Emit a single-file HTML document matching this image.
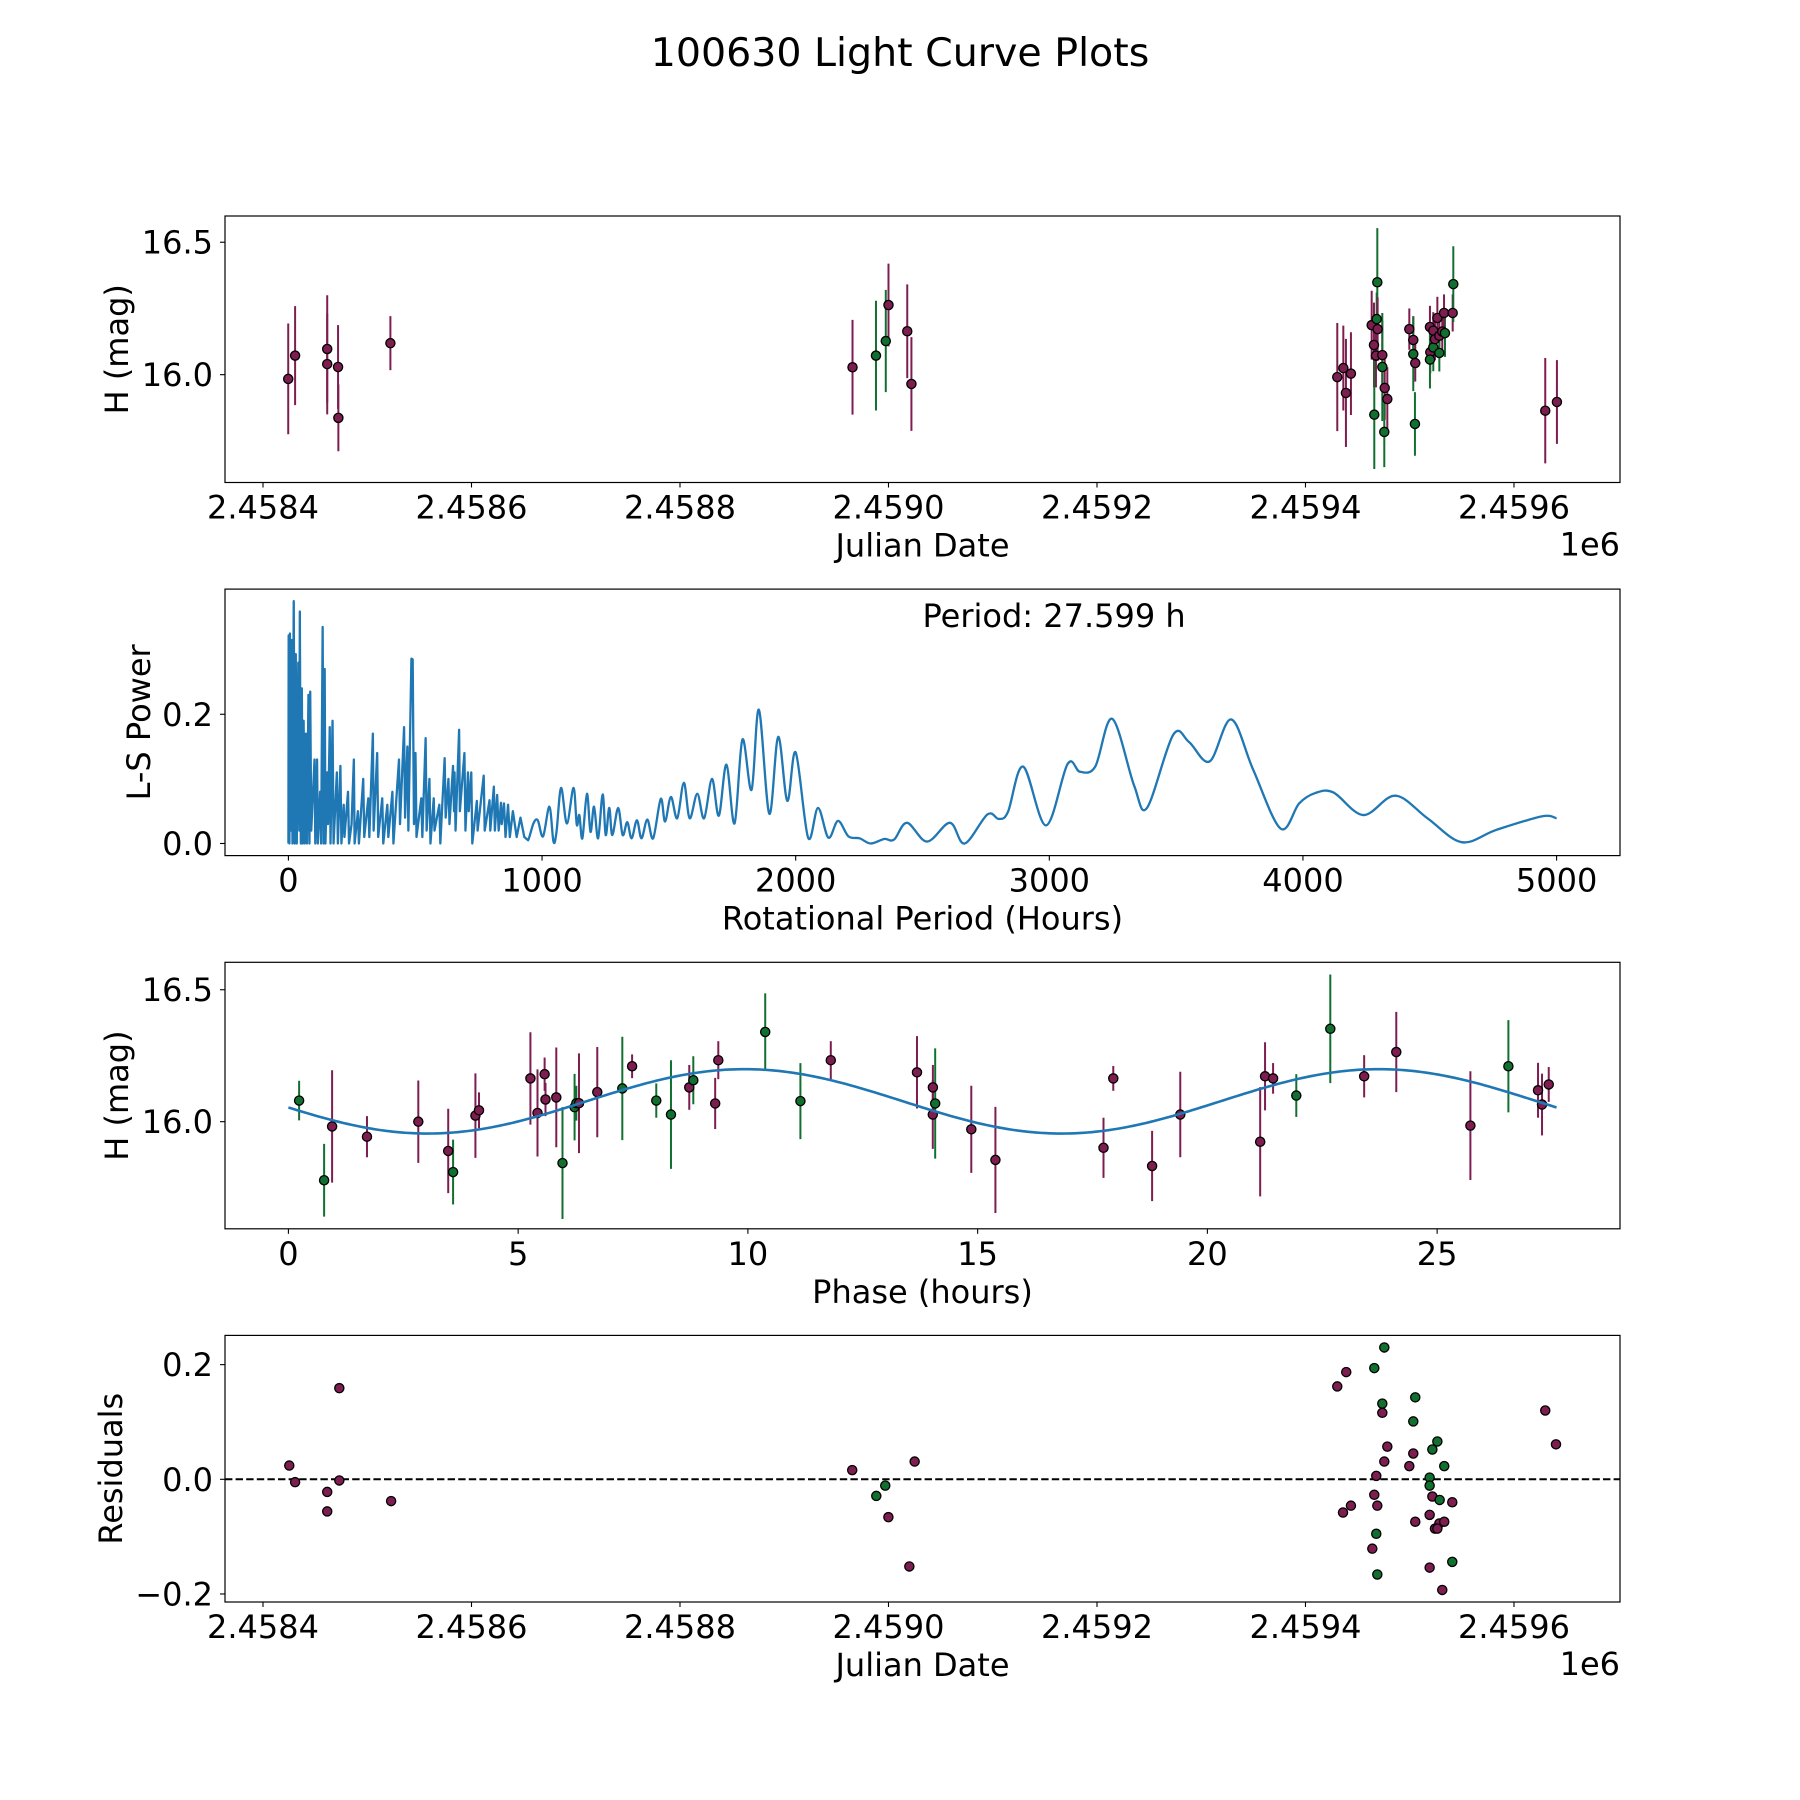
<!DOCTYPE html>
<html><head><meta charset="utf-8"><title>100630 Light Curve Plots</title>
<style>
html,body{margin:0;padding:0;background:#fff;}
svg{display:block;font-family:"DejaVu Sans","Liberation Sans",sans-serif;}
</style></head>
<body>
<svg id="fig" xmlns="http://www.w3.org/2000/svg" width="1800" height="1800" viewBox="0 0 1800 1800">
<rect width="1800" height="1800" fill="#fff"/>
<text x="900" y="66" font-size="39.5" text-anchor="middle">100630 Light Curve Plots</text>
</svg>
<script>
// ---- Panel 1: magnitude vs Julian date (days after 2458400) ----
const p1Days=[24.2,30.8,61.6,61.6,72,72.3,122.2,565.5,588,597.4,600,618,622,
1030.5,1036.3,1038.8,1043.6,1063.5,1065.7,1066,1068.3,1068.9,1067.6,1069.2,1073.7,1073.7,1076,1078.5,1075.6,
1099.6,1103.4,1103.4,1105.3,1105,1119.4,1119.7,1119.4,1122.6,1122.6,1124.2,1126.5,1128.4,1128.4,1131.2,1133.8,1132.9,1141.2,1141.8,1230,1241.2];
const p1Mag=[15.984,16.072,16.097,16.040,16.029,15.837,16.119,16.028,16.072,16.127,16.263,16.164,15.965,
15.991,16.025,15.931,16.004,16.187,16.112,15.849,16.21,16.349,16.072,16.172,16.074,16.029,15.95,15.908,15.784,
16.172,16.131,16.078,16.044,15.814,16.18,16.085,16.057,16.166,16.103,16.134,16.214,16.147,16.082,16.163,16.157,16.233,16.233,16.342,15.864,15.897];
const p1Err=[0.209,0.187,0.203,0.19,0.158,0.126,0.102,0.179,0.207,0.193,0.156,0.177,0.177,
0.204,0.16,0.204,0.156,0.13,0.16,0.205,0.1,0.204,0.12,0.12,0.13,0.204,0.12,0.12,0.133,
0.078,0.09,0.14,0.07,0.12,0.08,0.08,0.109,0.07,0.09,0.08,0.08,0.08,0.07,0.07,0.09,0.07,0.07,0.143,0.199,0.158];
const p1Color=['P','P','P','P','P','P','P','P','G','G','P','P','P',
'P','P','P','P','P','P','G','G','G','P','P','P','G','P','P','G',
'P','P','G','P','G','P','P','G','P','G','P','P','P','G','P','G','P','P','G','P','P'];
const p1XTicks=[0,200,400,600,800,1000,1200];
const p1XTickLabels=['2.4584','2.4586','2.4588','2.4590','2.4592','2.4594','2.4596'];
const magTicks=[16.0,16.5];
const magTickLabels=['16.0','16.5'];

// ---- Panel 2: Lomb-Scargle periodogram ----
const lsPeriod=[0,1,4,6,10,13,16,21,25,29,33,39,43,45,49,53,56,60,64,69,73,79,83,86,90,103,106,113,116,125,129,135,139,143,146,153,156,163,166,174,178,191,195,205,209,218,221,235,239,249,258,261,274,278,295,299,315,319,333,336,350,354,370,374,390,394,410,414,436,440,456,460,469,473,485,490,495,501,505,524,528,541,545,556,560,573,576,595,599,616,620,631,635,649,653,655,659,673,676,694,698,708,711,721,725,743,746,770,774,793,796,810,814,823,829,838,841,850,856,866,873,885,900,915,930,945,
966,983,1004,1029,1045,1057,1075,1098,1124,1137,1147,1159,1177,1191,1205,1221,1239,1251,1265,1277,1300,1318,1336,1353,1374,1392,1415,1438,1468,1485,1508,1533,1559,1582,1612,1639,1670,1697,1727,1759,1790,1826,1855,1896,1931,1967,2000,2049,2088,2129,2167,2208,2252,2296,2349,2388,2439,2518,2608,2666,2756,2801,2837,2897,2987,3072,3121,3181,3248,3334,3385,3488,3551,3632,3717,3804,3912,3985,4048,4120,4238,4364,4491,4626,4762,4942,5000];
const lsPower=[0,.322,0,.325,.02,.315,0,.375,0,.293,0,.28,.02,.359,0,.24,0,.19,0,.17,0,.23,0,.235,.02,.13,0,.13,0,.08,0,.335,0,.27,0,.11,.03,.18,0,.19,0,.11,0,.12,0,.06,.01,.08,0,.03,.13,0,.05,0,.1,.01,.07,.01,.17,.02,.14,.01,.07,0,.06,.01,.08,0,.13,.03,.18,.04,.15,.02,.286,.285,.03,.14,.01,.07,.01,.163,.02,.1,0,.07,.02,.06,0,.132,.04,.1,.03,.12,.05,.11,.02,.176,.05,.14,.02,.11,.05,.11,0,.066,.02,.105,.02,.067,.02,.088,.02,.075,.02,.063,.03,.062,.01,.06,.01,.05,.01,.04,.01,.005,
.031,.036,.011,.057,.003,.018,.086,.031,.086,.029,.044,.008,.077,.018,.057,.008,.076,.013,.055,.013,.055,.013,.033,.008,.036,.008,.037,.008,.069,.034,.072,.039,.094,.039,.077,.039,.1,.043,.122,.031,.161,.083,.207,.046,.165,.066,.141,.009,.055,.009,.035,.011,.008,0,.007,.006,.032,.003,.032,0,.045,.038,.049,.119,.028,.123,.111,.119,.193,.09,.055,.168,.157,.127,.192,.114,.023,.062,.078,.079,.044,.074,.039,.002,.021,.042,.039];
const lsXTicks=[0,1000,2000,3000,4000,5000];
const lsYTicks=[0.0,0.2];
const bestPeriod=[27.599];

// ---- Panel 3: phase-folded magnitudes ----
const p3Phase=[0.233,0.777,0.951,1.71,2.827,3.478,3.584,4.07,4.148,5.267,5.421,5.576,5.595,5.83,5.965,6.228,6.266,6.324,6.722,7.267,7.48,8.006,8.326,8.724,8.812,9.288,9.356,10.377,11.143,11.804,13.68,
14.026,14.024,14.076,14.862,15.387,17.739,17.952,18.797,19.41,21.149,21.255,21.43,21.935,22.675,23.412,24.111,25.724,26.551,27.196,27.283,27.429];
const p3Mag=[16.080,15.778,15.982,15.943,16.0,15.889,15.809,16.023,16.043,16.164,16.033,16.180,16.084,16.092,15.843,16.055,16.07,16.070,16.112,16.126,16.210,16.080,16.027,16.130,16.157,16.069,16.233,16.340,16.078,16.233,16.187,
16.130,16.027,16.069,15.971,15.855,15.901,16.164,15.832,16.027,15.924,16.172,16.164,16.099,16.352,16.172,16.264,15.985,16.210,16.119,16.065,16.141];
const p3Err=[0.075,0.138,0.213,0.078,0.156,0.16,0.123,0.16,0.068,0.175,0.165,0.063,0.063,0.189,0.212,0.126,0.066,0.189,0.171,0.196,0.045,0.065,0.206,0.085,0.091,0.097,0.072,0.146,0.144,0.072,0.137,
0.085,0.13,0.209,0.165,0.201,0.114,0.047,0.133,0.162,0.207,0.129,0.058,0.081,0.206,0.08,0.152,0.206,0.175,0.104,0.117,0.066];
const p3Color=['G','G','P','P','P','P','G','P','P','P','P','P','P','P','G','G','G','P','P','G','P','G','G','P','G','P','P','G','G','P','P',
'P','P','G','P','P','P','P','P','P','P','P','P','G','G','P','P','P','G','P','P','P'];
const fitMean=[16.077];
const fitAmp=[0.122];
const fitOffset=[6.48];
const phaseTicks=[0,5,10,15,20,25];

// ---- Panel 4: residuals ----
const resDays=[25.2,30.8,61.6,61.6,73.2,73.2,122.9,565.2,588.3,596.9,599.9,620,625.1,
1030.5,1039.1,1036,1043.6,1066,1075.6,1073.7,1073.7,1103.4,1105.3,1078.5,1075.6,1067.9,1066,1068.9,1067.9,1064.1,1068.9,
1103.4,1099.6,1126.5,1121.7,1133.1,1119.1,1119.1,1121.7,1128.7,1140.8,1119.1,1105.3,1128.4,1133.1,1124.2,1126.5,1140.8,1119.1,1131.2,1230,1240.3];
const resVal=[0.024,-0.005,-0.022,-0.056,0.159,-0.002,-0.038,0.016,-0.029,-0.011,-0.066,-0.152,0.031,
0.162,0.187,-0.058,-0.046,0.194,0.23,0.132,0.116,0.101,0.143,0.057,0.031,0.006,-0.027,-0.046,-0.095,-0.121,-0.166,
0.045,0.023,0.066,0.052,0.023,0.003,-0.011,-0.03,-0.036,-0.04,-0.062,-0.074,-0.077,-0.074,-0.086,-0.086,-0.144,-0.154,-0.193,0.12,0.061];
const resColor=['P','P','P','P','P','P','P','P','G','G','P','P','P',
'P','P','P','P','G','G','G','P','G','G','P','P','P','P','P','G','P','G',
'P','P','G','G','G','G','G','P','G','P','P','P','P','P','P','P','G','P','P','P','P'];
const resYTicks=[-0.2,0.0,0.2];
const resYTickLabels=['\u22120.2','0.0','0.2'];

const NS='http://www.w3.org/2000/svg';
const svg=document.getElementById('fig');
const L=225,R=1620;
const COLORS={P:'#7d1d50',G:'#11702f'};
const FS=32;
const dayLim=[-36.45,1301.7];
const panels=[{t:216,b:482.5},{t:589.1,b:855.6},{t:962.3,b:1228.8},{t:1335.4,b:1602}];

function mk(tag,attrs,parent){const e=document.createElementNS(NS,tag);for(const k in attrs)e.setAttribute(k,attrs[k]);(parent||svg).appendChild(e);return e;}
function scaleX(lo,hi){return v=>L+(v-lo)/(hi-lo)*(R-L);}
function scaleY(lo,hi,p){return v=>p.b-(v-lo)/(hi-lo)*(p.b-p.t);}

function frame(p,name){
  const g=mk('g',{});
  
  
  return g;
}
function spines(p,g){
  const r=mk('rect',{x:L,y:p.t,width:R-L,height:p.b-p.t,fill:'none',stroke:'#000','stroke-width':1.2},g);
  
  
}
function xTicks(p,g,vals,labels,sx){
  vals.forEach((v,i)=>{
    const x=sx(v);
    const t=mk('line',{x1:x,x2:x,y1:p.b,y2:p.b+5,stroke:'#000','stroke-width':1.1},g);
    
    
    const tx=mk('text',{x:x,y:p.b+36,'font-size':FS,'text-anchor':'middle'},g);
    tx.textContent=labels[i];
    
    
  });
}
function yTicks(p,g,vals,labels,sy){
  vals.forEach((v,i)=>{
    const y=sy(v);
    const t=mk('line',{x1:L-5,x2:L,y1:y,y2:y,stroke:'#000','stroke-width':1.1},g);
    
    
    const tx=mk('text',{x:L-12,y:y+11.5,'font-size':FS,'text-anchor':'end'},g);
    tx.textContent=labels[i];
    
    
  });
}
function xLabel(p,g,txt){
  const t=mk('text',{x:(L+R)/2,y:p.b+74,'font-size':FS,'text-anchor':'middle'},g);
  t.textContent=txt;
  
  
}
function yLabel(p,g,txt,cx){
  const cy=(p.t+p.b)/2;
  const t=mk('text',{x:cx,y:cy,'font-size':FS,'text-anchor':'middle',transform:'rotate(-90 '+cx+' '+cy+')'},g);
  t.textContent=txt;
  
  
}
function errPoints(g,xs,ys,es,cs,sx,sy){
  xs.forEach((v,i)=>{
    const x=sx(v);
    const b=mk('line',{x1:x,x2:x,y1:sy(ys[i]-es[i]),y2:sy(ys[i]+es[i]),stroke:COLORS[cs[i]],'stroke-width':2},g);
    
    
  });
  xs.forEach((v,i)=>{
    const c=mk('circle',{cx:sx(v),cy:sy(ys[i]),r:4.6,fill:COLORS[cs[i]],stroke:'#000','stroke-width':1.3},g);
    
    
  });
}

// Panel 1
(function(){
  const p=panels[0];const g=frame(p,'magnitude-vs-date-panel');
  const sx=scaleX(dayLim[0],dayLim[1]),sy=scaleY(15.593,16.599,p);
  errPoints(g,p1Days,p1Mag,p1Err,p1Color,sx,sy);
  spines(p,g);
  xTicks(p,g,p1XTicks,p1XTickLabels,sx);
  yTicks(p,g,magTicks,magTickLabels,sy);
  xLabel(p,g,'Julian Date');
  yLabel(p,g,'H (mag)',128);
  const o=mk('text',{x:R,y:p.b+73,'font-size':FS,'text-anchor':'end'},g);
  o.textContent='1e6';
  
  
})();

// Panel 2
(function(){
  const p=panels[1];const g=frame(p,'periodogram-panel');
  const sx=scaleX(-250,5250),sy=scaleY(-0.01875,0.39375,p);
  const n=Math.min(lsPeriod.length,lsPower.length);
  const pts=[];
  for(let i=0;i<n;i++)pts.push([sx(lsPeriod[i]),sy(lsPower[i])]);
  let d='M'+pts[0][0].toFixed(2)+' '+pts[0][1].toFixed(2);
  for(let i=1;i<pts.length;i++){
    if(lsPeriod[i]<=945){d+='L'+pts[i][0].toFixed(2)+' '+pts[i][1].toFixed(2);continue;}
    const p0=pts[Math.max(i-2,0)],p1=pts[i-1],p2=pts[i],p3=pts[Math.min(i+1,pts.length-1)];
    const c1x=p1[0]+(p2[0]-p0[0])/6,c1y=p1[1]+(p2[1]-p0[1])/6;
    const c2x=p2[0]-(p3[0]-p1[0])/6,c2y=p2[1]-(p3[1]-p1[1])/6;
    d+='C'+c1x.toFixed(2)+' '+c1y.toFixed(2)+' '+c2x.toFixed(2)+' '+c2y.toFixed(2)+' '+p2[0].toFixed(2)+' '+p2[1].toFixed(2);
  }
  const path=mk('path',{d:d,fill:'none',stroke:'#1f77b4','stroke-width':2.3,'stroke-linejoin':'round'},g);
  
  
  spines(p,g);
  xTicks(p,g,lsXTicks,lsXTicks.map(String),sx);
  yTicks(p,g,lsYTicks,lsYTicks.map(v=>v.toFixed(1)),sy);
  xLabel(p,g,'Rotational Period (Hours)');
  yLabel(p,g,'L-S Power',150);
  const t=mk('text',{x:(L+R)/2,y:p.t+38,'font-size':FS},g);
  t.textContent='Period: '+bestPeriod[0].toFixed(3)+' h';
  
  
})();

// Panel 3
(function(){
  const p=panels[2];const g=frame(p,'phase-folded-panel');
  const sx=scaleX(-1.38,28.98),sy=scaleY(15.594,16.604,p);
  errPoints(g,p3Phase,p3Mag,p3Err,p3Color,sx,sy);
  let d='';
  const P=bestPeriod[0];
  for(let i=0;i<=300;i++){
    const ph=P*i/300;
    const m=fitMean[0]+fitAmp[0]*Math.sin(4*Math.PI*(ph-fitOffset[0])/P);
    d+=(i?'L':'M')+sx(ph).toFixed(2)+' '+sy(m).toFixed(2);
  }
  const fit=mk('path',{d:d,fill:'none',stroke:'#1f77b4','stroke-width':2.6},g);
  
  
  spines(p,g);
  xTicks(p,g,phaseTicks,phaseTicks.map(String),sx);
  yTicks(p,g,magTicks,magTickLabels,sy);
  xLabel(p,g,'Phase (hours)');
  yLabel(p,g,'H (mag)',128);
})();

// Panel 4
(function(){
  const p=panels[3];const g=frame(p,'residuals-panel');
  const sx=scaleX(dayLim[0],dayLim[1]),sy=scaleY(-0.214,0.251,p);
  const z=mk('line',{x1:L,x2:R,y1:sy(0),y2:sy(0),stroke:'#000','stroke-width':2,'stroke-dasharray':'7.4 3.2'},g);
  
  
  resDays.forEach((v,i)=>{
    const c=mk('circle',{cx:sx(v),cy:sy(resVal[i]),r:4.6,fill:COLORS[resColor[i]],stroke:'#000','stroke-width':1.3},g);
    
    
  });
  spines(p,g);
  xTicks(p,g,p1XTicks,p1XTickLabels,sx);
  yTicks(p,g,resYTicks,resYTickLabels,sy);
  xLabel(p,g,'Julian Date');
  yLabel(p,g,'Residuals',122);
  const o=mk('text',{x:R,y:p.b+73,'font-size':FS,'text-anchor':'end'},g);
  o.textContent='1e6';
  
  
})();
</script>
</body></html>
